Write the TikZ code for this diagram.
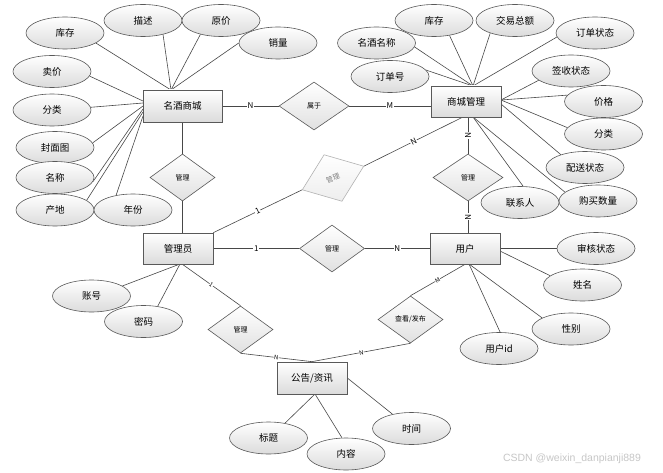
\documentclass[tikz,border=0pt]{standalone}
\usepackage{fontspec}
\newfontfamily\cjk{Noto Sans CJK SC}
\newfontfamily\wmfont{Liberation Sans}
\usetikzlibrary{shapes.geometric}
\pgfdeclarelayer{bg}
\pgfsetlayers{bg,main}
\begin{document}
\begin{tikzpicture}[x=1pt,y=-1pt,
 attr/.style={ellipse,draw=black!65,line width=0.6pt,top color=white,bottom color=black!14,minimum width=78pt,minimum height=32pt,inner sep=0pt,font=\cjk\fontsize{9.5}{10}\selectfont},
 ent/.style={rectangle,draw=black!65,line width=0.7pt,top color=white,bottom color=black!14,minimum width=70pt,minimum height=31pt,inner sep=0pt,font=\cjk\fontsize{9.5}{10}\selectfont},
 rel/.style={diamond,draw=black!65,line width=0.6pt,top color=white,bottom color=black!12,minimum width=65pt,minimum height=47pt,inner sep=0pt,font=\cjk\fontsize{7}{7}\selectfont},
 conn/.style={draw=black!72,line width=0.6pt},
 lbl/.style={fill=white,inner sep=0.6pt,font=\cjk\fontsize{8}{8}\selectfont},
 slbl/.style={fill=white,inner sep=0.3pt,font=\cjk\fontsize{6}{6}\selectfont}]

\useasboundingbox (0,0) rectangle (663,473);

% entities
\node[ent,minimum width=79pt,minimum height=32pt] (mj) at (182.5,106) {名酒商城};
\node[ent] (sg) at (466,101.5) {商城管理};
\node[ent] (gly) at (178,248.5) {管理员};
\node[ent] (yh) at (465,248.5) {用户};
\node[ent,minimum height=32pt] (gg) at (312,378) {公告/资讯};

% relations
\node[rel,minimum width=70pt,minimum height=48pt] (sy) at (314,106) {属于};
\node[rel] (r1) at (182.5,177.5) {管理};
\node[rel,minimum width=70pt] (r4) at (468,177.5) {管理};
\node[rel] (r2) at (332,248.5) {管理};
\node[rel] (r3) at (240.5,329.5) {管理};
\node[rel] (ck) at (410.5,319.5) {查看/发布};
\node[rel,rotate=21,minimum width=66pt,minimum height=50pt,draw=black!30,text=black!50,top color=white,bottom color=black!7] (rg) at (333,178) {管理};

% attributes of 名酒商城
\node[attr] (m1) at (65,33) {库存};
\node[attr] (m2) at (143,20.5) {描述};
\node[attr] (m3) at (221,20.5) {原价};
\node[attr] (m4) at (278,43) {销量};
\node[attr] (m5) at (52,71.5) {卖价};
\node[attr] (m6) at (52,110) {分类};
\node[attr] (m7) at (55,147.5) {封面图};
\node[attr] (m8) at (55,177.5) {名称};
\node[attr] (m9) at (55,210) {产地};
\node[attr] (m10) at (133,210) {年份};

% attributes of 商城管理
\node[attr] (s1) at (434,20.5) {库存};
\node[attr] (s2) at (515,20.5) {交易总额};
\node[attr] (s3) at (376.5,43) {名酒名称};
\node[attr] (s4) at (595,33) {订单状态};
\node[attr] (s5) at (390,76.5) {订单号};
\node[attr] (s6) at (571,71) {签收状态};
\node[attr] (s7) at (603.5,101.5) {价格};
\node[attr] (s8) at (603.5,134) {分类};
\node[attr] (s9) at (585,167.5) {配送状态};
\node[attr] (s10) at (520,202.5) {联系人};
\node[attr] (s11) at (598,201) {购买数量};

% attributes of 用户
\node[attr] (u1) at (596,248.5) {审核状态};
\node[attr] (u2) at (582.5,285) {姓名};
\node[attr] (u3) at (571,329) {性别};
\node[attr] (u4) at (499,348.5) {用户id};

% attributes of 管理员
\node[attr] (g1) at (91.5,296) {账号};
\node[attr] (g2) at (143.5,321.5) {密码};

% attributes of 公告/资讯
\node[attr] (n1) at (268.5,438) {标题};
\node[attr] (n2) at (346,454) {内容};
\node[attr] (n3) at (411.5,428.5) {时间};

% watermark
\node[text=black!22,font=\wmfont\fontsize{10.5}{11}\selectfont] (wm) at (572,459) {CSDN @weixin\_danpianji889};

% convergence points
\coordinate (mjT) at (171,90);
\coordinate (mjL1) at (143,101);
\coordinate (mjL2) at (143,103);
\coordinate (mjL3) at (143,106);
\coordinate (mjL4) at (143,109);
\coordinate (mjL5) at (143,112);
\coordinate (mjL6) at (143,116);
\coordinate (sgT) at (473,86);
\coordinate (sgR) at (501,100);
\coordinate (sgR2) at (501,104);
\coordinate (sgB) at (473,117);
\coordinate (sgB2) at (463,117);
\coordinate (yhR) at (500,251);
\coordinate (yhB) at (469,264);
\coordinate (glyB) at (180,264);
\coordinate (glyB2) at (182,264);
\coordinate (ggB) at (315,394);

\begin{pgfonlayer}{bg}
\fill[white] (0,0) rectangle (663,473);
% attribute connectors
\draw[conn] (m1.-18) -- (mjT);
\draw[conn] (m2.-35) -- (mjT);
\draw[conn] (m3.-146) -- (mjT);
\draw[conn] (m4.180) -- (mjT);
\draw[conn] (m5.-7) -- (mjL1);
\draw[conn] (m6.4) -- (mjL2);
\draw[conn] (m7.7) -- (mjL3);
\draw[conn] (m8.-6) -- (mjL4);
\draw[conn] (m9.17) -- (mjL5);
\draw[conn] (m10.139) -- (mjL6);

\draw[conn] (s1.-44) -- (sgT);
\draw[conn] (s2.207) -- (sgT);
\draw[conn] (s3.-6) -- (sgT);
\draw[conn] (s4.186) -- (sgT);
\draw[conn] (s5.10) -- (sgT);
\draw[conn] (s6.196) -- (sgR);
\draw[conn] (s7.170) -- (sgR);
\draw[conn] (s8.170) -- (sgR);
\draw[conn] (s9.152) -- (sgR2);
\draw[conn] (s10.79) -- (sgB);
\draw[conn] (s11.165) -- (sgB);

\draw[conn] (u1) -- (yh);
\draw[conn] (u2.164) -- (yhR);
\draw[conn] (u3.159) -- (yhB);
\draw[conn] (u4.86) -- (yhB);

\draw[conn] (g1.18) -- (glyB);
\draw[conn] (g2.47) -- (glyB);

\draw[conn] (n1.42) -- (ggB);
\draw[conn] (n2.104) -- (ggB);
\draw[conn] (n3.143) -- (gg.east);

% relationship connectors
\draw[conn] (mj) -- node[lbl]{N} (sy);
\draw[conn] (sy) -- node[lbl]{M} (sy -| sg.west);
\draw[conn] (r1.north) -- (r1.north |- mj.south);
\draw[conn] (r1.south) -- (r1.south |- gly.north);
\draw[conn] (gly.north east) -- node[lbl,sloped]{1} (rg.west);
\draw[conn] (rg.east) -- node[lbl,sloped]{N} (sgB2);
\draw[conn] (r4.north |- sg.south) -- node[lbl,sloped]{N} (r4.north);
\draw[conn] (r4.south) -- node[lbl,sloped]{N} (r4.south |- yh.north);
\draw[conn] (gly) -- node[lbl]{1} (r2);
\draw[conn] (r2) -- node[lbl]{N} (yh);
\draw[conn] (glyB2) -- node[slbl,sloped]{1} (r3.north);
\draw[conn] (r3.south) -- node[slbl,sloped]{N} (gg.north);
\draw[conn] (yh.south) -- node[slbl,sloped]{M} (ck.north);
\draw[conn] (ck.south) -- node[slbl,sloped]{N} (gg.north);
\end{pgfonlayer}
\end{tikzpicture}
\end{document}
